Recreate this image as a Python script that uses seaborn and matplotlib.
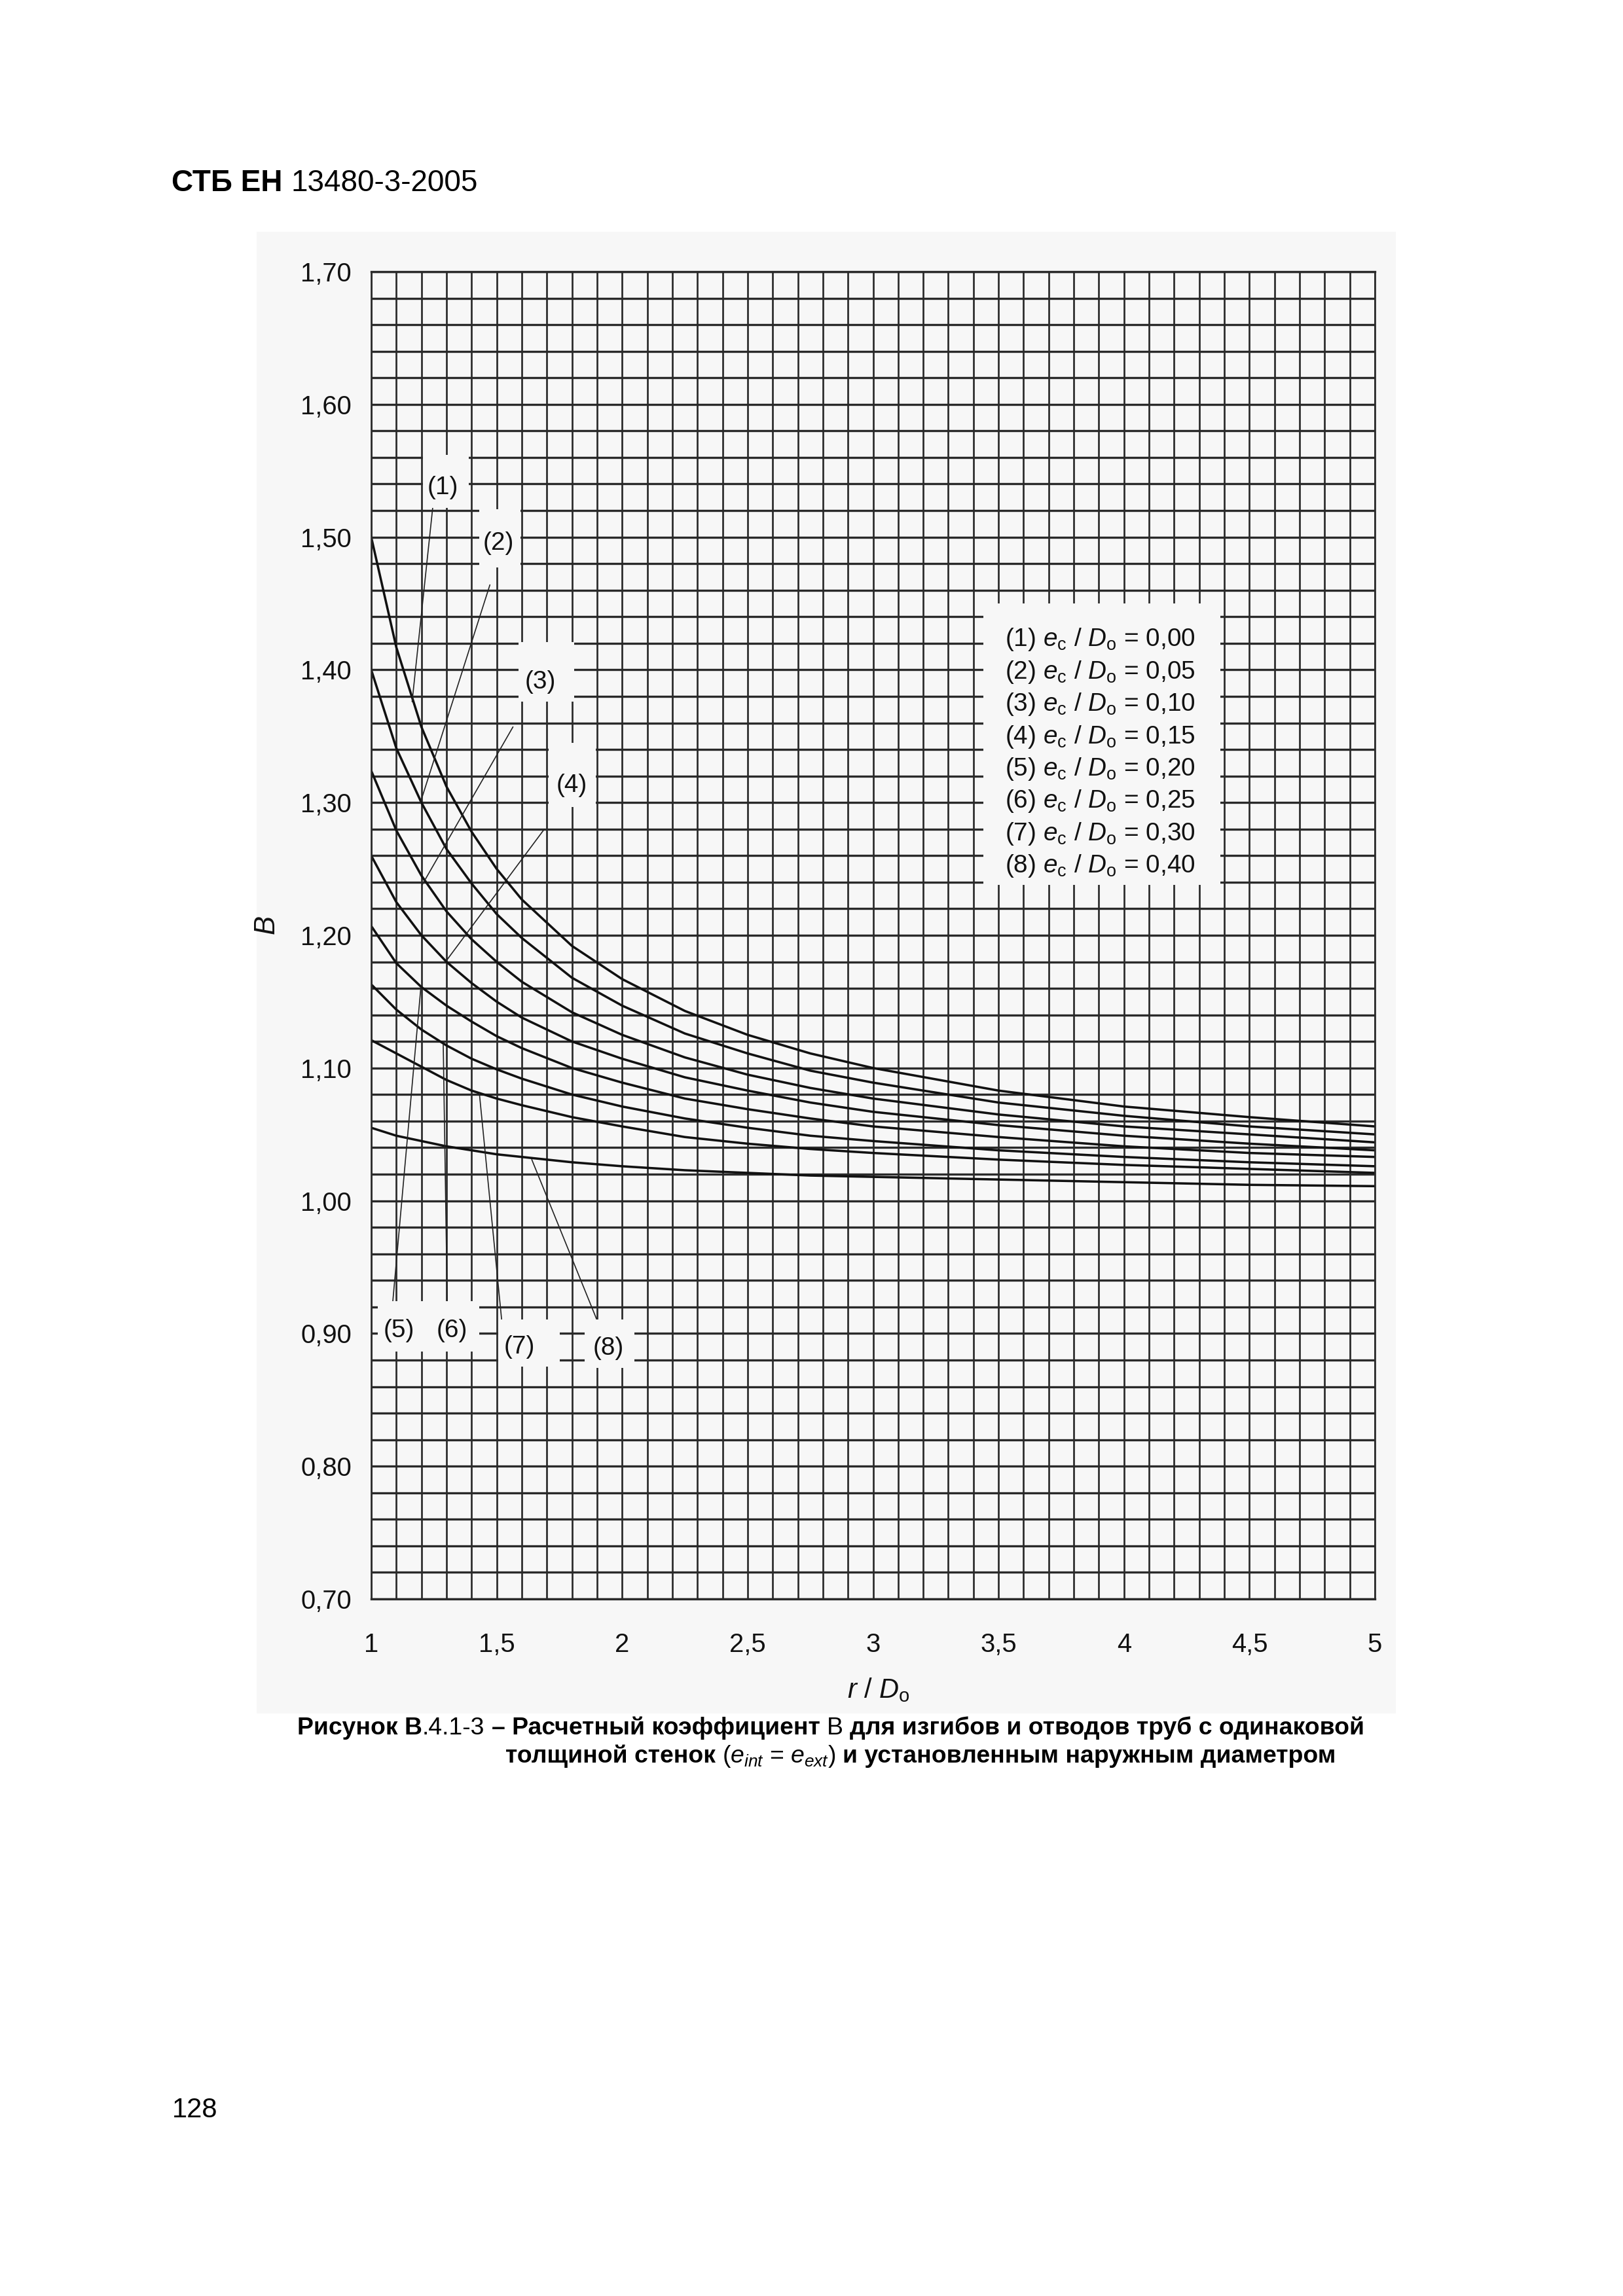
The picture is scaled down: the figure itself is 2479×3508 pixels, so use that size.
import numpy as np
import pandas as pd
import matplotlib
matplotlib.use("Agg")
import matplotlib.pyplot as plt
import seaborn as sns
from matplotlib.patches import Rectangle
from matplotlib.transforms import IdentityTransform

# ---------------- data ----------------
r_over_D = [1.0, 1.1, 1.2, 1.3, 1.4, 1.5, 1.6, 1.8, 2.0, 2.25, 2.5, 2.75, 3.0, 3.5, 4.0, 4.5, 5.0]
B_c1 = [1.500, 1.417, 1.357, 1.312, 1.278, 1.250, 1.227, 1.192, 1.167, 1.143, 1.125, 1.111, 1.100, 1.083, 1.071, 1.063, 1.056]
B_c2 = [1.400, 1.341, 1.300, 1.265, 1.239, 1.216, 1.198, 1.168, 1.147, 1.126, 1.111, 1.098, 1.089, 1.074, 1.064, 1.056, 1.050]
B_c3 = [1.324, 1.279, 1.245, 1.218, 1.197, 1.180, 1.165, 1.142, 1.125, 1.108, 1.095, 1.085, 1.077, 1.065, 1.056, 1.050, 1.044]
B_c4 = [1.260, 1.225, 1.200, 1.180, 1.164, 1.150, 1.138, 1.120, 1.107, 1.093, 1.083, 1.074, 1.067, 1.057, 1.049, 1.043, 1.038]
B_c5 = [1.207, 1.179, 1.161, 1.147, 1.135, 1.124, 1.115, 1.100, 1.089, 1.077, 1.069, 1.062, 1.056, 1.048, 1.041, 1.036, 1.033]
B_c6 = [1.163, 1.144, 1.129, 1.117, 1.107, 1.099, 1.092, 1.080, 1.071, 1.062, 1.055, 1.049, 1.045, 1.038, 1.033, 1.029, 1.026]
B_c7 = [1.121, 1.111, 1.101, 1.091, 1.083, 1.077, 1.072, 1.063, 1.056, 1.048, 1.043, 1.039, 1.036, 1.031, 1.027, 1.024, 1.021]
B_c8 = [1.055, 1.049, 1.045, 1.041, 1.038, 1.035, 1.033, 1.029, 1.026, 1.023, 1.021, 1.019, 1.018, 1.016, 1.014, 1.012, 1.011]
curve_ids = ["(1)", "(2)", "(3)", "(4)", "(5)", "(6)", "(7)", "(8)"]
ec_over_D = ["0,00", "0,05", "0,10", "0,15", "0,20", "0,25", "0,30", "0,40"]

x_ticks = [1, 1.5, 2, 2.5, 3, 3.5, 4, 4.5, 5]
x_tick_labels = ["1", "1,5", "2", "2,5", "3", "3,5", "4", "4,5", "5"]
y_ticks = [0.70, 0.80, 0.90, 1.00, 1.10, 1.20, 1.30, 1.40, 1.50, 1.60, 1.70]
y_tick_labels = ["0,70", "0,80", "0,90", "1,00", "1,10", "1,20", "1,30", "1,40", "1,50", "1,60", "1,70"]

header_bold = "СТБ ЕН"
header_reg = "13480-3-2005"
page_number = "128"

# ---------------- style ----------------
sns.set_style("white")
plt.rcParams['font.family'] = ['Liberation Sans', 'DejaVu Sans']
plt.rcParams['mathtext.fontset'] = 'custom'
plt.rcParams['mathtext.rm'] = 'Liberation Sans'
plt.rcParams['mathtext.it'] = 'Liberation Sans:italic'
plt.rcParams['mathtext.bf'] = 'Liberation Sans:bold'

W, H, DPI = 2479, 3508, 300
BG = '#f7f7f7'
GRID = '#2a2a2a'
INK = '#111111'

fig = plt.figure(figsize=(W / DPI, H / DPI), dpi=DPI)
fig.patch.set_facecolor('white')

# scanned-figure background
fig.add_artist(Rectangle((392 / W, 1 - 2618 / H), (2132 - 392) / W, (2618 - 354) / H,
                         transform=fig.transFigure, facecolor=BG, edgecolor='none', zorder=0))

# axes: x 1..5 -> px 567..2100 ; B 1.70..0.70 -> px 415..2443
L, R, T, Bt = 567, 2100, 415, 2443
ax = fig.add_axes([L / W, 1 - Bt / H, (R - L) / W, (Bt - T) / H])
ax.set_facecolor(BG)
ax.set_xlim(1, 5)
ax.set_ylim(0.70, 1.70)

ax.set_xticks(x_ticks)
ax.set_xticklabels(x_tick_labels)
ax.set_xticks(np.round(np.arange(1.0, 5.001, 0.1), 2), minor=True)
ax.set_yticks(y_ticks)
ax.set_yticklabels(y_tick_labels)
ax.set_yticks(np.round(np.arange(0.70, 1.7001, 0.02), 2), minor=True)

ax.set_axisbelow(True)
ax.grid(axis='x', which='both', color=GRID, lw=0.65)
ax.grid(axis='y', which='both', color=GRID, lw=0.8)
ax.tick_params(axis='x', which='both', direction='out', length=4.3, width=0.65, color=GRID,
               labelsize=9.6, pad=7.9, labelcolor=INK)
ax.tick_params(axis='y', which='major', direction='out', length=2.7, width=0.8, color=GRID,
               labelsize=9.6, pad=4.5, labelcolor=INK)
ax.tick_params(axis='y', which='minor', length=0)
for s in ['left', 'right']:
    ax.spines[s].set_color(GRID); ax.spines[s].set_linewidth(0.65)
for s in ['top', 'bottom']:
    ax.spines[s].set_color(GRID); ax.spines[s].set_linewidth(0.8)

# ---------------- curves ----------------
series = [B_c1, B_c2, B_c3, B_c4, B_c5, B_c6, B_c7, B_c8]
df = pd.DataFrame({
    'r/D0': np.tile(r_over_D, len(series)),
    'B': np.concatenate(series),
    'curve': np.repeat(curve_ids, len(r_over_D)),
})
sns.lineplot(data=df, x='r/D0', y='B', hue='curve', palette=[INK] * len(series),
             estimator=None, sort=False, legend=False, lw=0.85, ax=ax, zorder=2)
ax.set_xlabel(''); ax.set_ylabel('')

# ---------------- label boxes (cut the grid) ----------------
boxes = [  # (x0, x1, y0, y1)
    (1.205, 1.39, 1.522, 1.562),   # (1)
    (1.43, 1.595, 1.477, 1.521),   # (2)
    (1.587, 1.81, 1.376, 1.421),   # (3)
    (1.706, 1.895, 1.2965, 1.345), # (4)
    (1.027, 1.43, 0.8865, 0.9244), # (5)(6)
    (1.505, 1.752, 0.875, 0.9104), # (7)
    (1.851, 2.048, 0.874, 0.9104), # (8)
    (3.44, 4.385, 1.238, 1.450),   # legend
]
for x0, x1, y0, y1 in boxes:
    ax.add_patch(Rectangle((x0, y0), x1 - x0, y1 - y0, facecolor=BG, edgecolor='none', zorder=3))

label_pos = [(1.284, 1.5375), (1.507, 1.4956), (1.674, 1.391), (1.80, 1.3128),
             (1.11, 0.902), (1.322, 0.902), (1.59, 0.8898), (1.945, 0.889)]
for lab, (x, y) in zip(curve_ids, label_pos):
    ax.text(x, y, lab, fontsize=9.3, ha='center', va='center', color=INK, zorder=4)

leaders = [
    ((1.245, 1.522), (1.163, 1.376)),
    ((1.473, 1.464), (1.196, 1.300)),
    ((1.565, 1.357), (1.203, 1.238)),
    ((1.690, 1.280), (1.300, 1.181)),
    ((1.086, 0.924), (1.198, 1.161)),
    ((1.303, 0.924), (1.287, 1.118)),
    ((1.520, 0.910), (1.431, 1.081)),
    ((1.900, 0.910), (1.640, 1.031)),
]
for (xa, ya), (xb, yb) in leaders:
    ax.plot([xa, xb], [ya, yb], color='#222222', lw=0.4, zorder=2.5)

# legend text
for i, (lab, val) in enumerate(zip(curve_ids, ec_over_D)):
    ax.text(3.526, 1.4178 - i * 0.02436, lab + r" $e_\mathrm{c}$ / $D_\mathrm{o}$ = " + val,
            fontsize=9.3, ha='left', va='baseline', color=INK, zorder=4)

# axis titles
fig.text(409 / W, 1 - 1414 / H, r"$B$", rotation=90, fontsize=10.5, ha='center', va='center', color=INK)
fig.text(1342 / W, 1 - 2582 / H, r"$r$ / $D_\mathrm{o}$", fontsize=10, ha='center', va='center', color=INK)

# ---------------- page texts ----------------
renderer = fig.canvas.get_renderer()


def draw_runs(x_px, y_base_px, runs, size, draw=True):
    x = x_px
    arts = []
    for s, weight, gap in runs:
        x += gap * size * DPI / 72.0
        t = fig.text(x, H - y_base_px, s, transform=IdentityTransform(), fontsize=size,
                     fontweight=weight, ha='left', va='baseline', color='black')
        bb = t.get_window_extent(renderer=renderer)
        x = bb.x1
        arts.append(t)
    if not draw:
        for a in arts:
            a.remove()
    return x - x_px


draw_runs(262, 292, [(header_bold, 'bold', 0), (header_reg, 'normal', 0.278)], 11)
draw_runs(263, 3235, [(page_number, 'normal', 0)], 10)

cap1 = [("Рисунок В", 'bold', 0), (".4.1-3", 'normal', 0),
        ("– Расчетный коэффициент", 'bold', 0.278), ("В", 'normal', 0.278),
        ("для изгибов и отводов труб с одинаковой", 'bold', 0.278)]
cap2 = [("толщиной стенок", 'bold', 0), (r"($e_{int}$ = $e_{ext}$)", 'normal', 0.278),
        ("и установленным наружным диаметром", 'bold', 0.278)]
w10 = draw_runs(454, 2650, cap1, 10, draw=False)
cs = 10 * (2085 - 454) / w10
draw_runs(454, 2650, cap1, cs)
draw_runs(772, 2693, cap2, cs)

fig.savefig('out.png', dpi=DPI, facecolor='white')
